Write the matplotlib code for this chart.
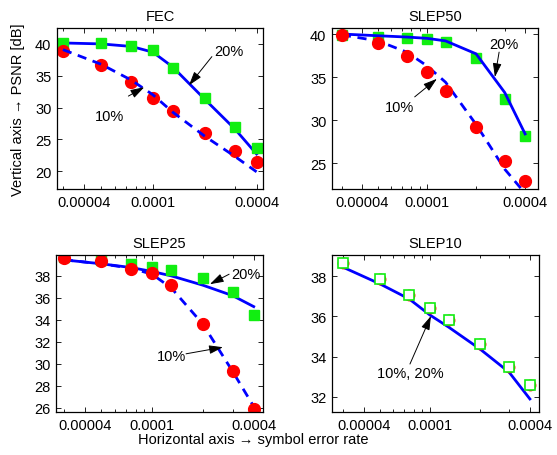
import matplotlib
matplotlib.use("Agg")
import matplotlib.pyplot as plt
from matplotlib.ticker import FixedLocator, NullFormatter

plt.rcParams['font.family'] = ['Liberation Sans', 'DejaVu Sans']

# symbol error rate (shared by all panels)
ser = [3e-5, 5e-5, 7.5e-5, 1e-4, 1.3e-4, 2e-4, 3e-4, 4e-4]
xtick_vals = [4e-5, 1e-4, 4e-4]
xtick_labels = ['0.00004', '0.0001', '0.0004']

# FEC
fec_20_pts = [40.1, 40.1, 39.7, 39.1, 36.2, 31.5, 26.9, 23.7]
fec_10_pts = [38.9, 36.7, 34.0, 31.5, 29.5, 26.0, 23.2, 21.5]
fec_20_fit = [40.15, 40.0, 39.6, 38.7, 36.4, 31.3, 26.6, 22.7]
fec_10_fit = [39.1, 36.8, 34.3, 32.0, 29.3, 25.5, 22.3, 19.9]

# SLEP50
s50_20_pts = [39.9, 39.7, 39.5, 39.4, 39.1, 37.2, 32.5, 28.2]
s50_10_pts = [39.9, 39.0, 37.4, 35.6, 33.4, 29.2, 25.2, 22.9]
s50_20_fit = [40.0, 39.8, 39.65, 39.5, 39.2, 37.7, 33.2, 28.4]
s50_10_fit = [39.9, 39.2, 37.9, 36.3, 34.4, 29.5, 24.3, 21.5]

# SLEP25
s25_20_pts = [39.7, 39.4, 39.1, 38.8, 38.5, 37.8, 36.5, 34.4]
s25_10_pts = [39.67, 39.37, 38.67, 38.3, 37.15, 33.6, 29.3, 25.9]
s25_20_fit = [39.46, 39.1, 38.76, 38.4, 38.0, 37.15, 36.2, 35.2]
s25_10_fit = [39.46, 39.1, 38.7, 38.15, 36.9, 33.6, 29.3, 26.1]

# SLEP10 (10% and 20% coincide)
s10_pts = [38.66, 37.87, 37.07, 36.42, 35.82, 34.63, 33.47, 32.6]
s10_fit = [38.45, 37.62, 36.87, 36.07, 35.46, 34.38, 33.22, 31.89]

W, H = 557, 456
FS = 10.5
fig = plt.figure(figsize=(W / 100, H / 100), dpi=100)


def make_ax(left, top, right, bottom):
    return fig.add_axes([left / W, 1 - bottom / H, (right - left) / W, (bottom - top) / H])


blue = '#0000ff'
green = '#11ee11'
red = '#ff0000'
dash = (3.3, 2.4)


def style(ax, title, xlim, ylim, yticks):
    ax.set_xscale('log')
    ax.set_xlim(xlim)
    ax.set_ylim(ylim)
    ax.set_xticks(xtick_vals)
    ax.set_xticklabels(xtick_labels)
    minors = [2e-5, 3e-5, 5e-5, 6e-5, 7e-5, 8e-5, 9e-5, 2e-4, 3e-4, 5e-4]
    ax.xaxis.set_minor_locator(FixedLocator(minors))
    ax.xaxis.set_minor_formatter(NullFormatter())
    ax.set_yticks(yticks)
    ax.tick_params(which='both', direction='in', top=True, right=True, labelsize=FS, width=0.6)
    ax.tick_params(which='major', length=3.5, pad=4)
    ax.tick_params(which='minor', length=2)
    for s in ax.spines.values():
        s.set_linewidth(0.9)
    ax.set_title(title, fontsize=FS, pad=6)


def arrow(ax, tail, tip, label, text_pos):
    ax.annotate('', xy=tip, xytext=tail,
                arrowprops=dict(arrowstyle='-|>,head_length=0.7,head_width=0.22',
                                color='k', lw=0.7, shrinkA=0, shrinkB=0, mutation_scale=12))
    ax.text(text_pos[0], text_pos[1], label, fontsize=FS, ha='center', va='center')


# FEC
ax = make_ax(57, 29, 263, 190)
ax.plot(ser, fec_20_fit, color=blue, lw=2)
ax.plot(ser, fec_20_pts, 's', color=green, ms=7, mec=green)
ax.plot(ser, fec_10_pts, 'o', color=red, ms=8.5, mec=red)
ax.plot(ser, fec_10_fit, color=blue, lw=2, dashes=dash)
style(ax, 'FEC', (2.77e-5, 4.36e-4), (17.2, 42.5), [20, 25, 30, 35, 40])
arrow(ax, (2.2e-4, 38.0), (1.62e-4, 33.5), '20%', (2.75e-4, 38.9))
arrow(ax, (7.2e-5, 31.8), (8.9e-5, 33.2), '10%', (5.6e-5, 28.7))

# SLEP50
ax = make_ax(332, 29, 538, 190)
ax.plot(ser, s50_20_pts, 's', color=green, ms=7, mec=green)
ax.plot(ser, s50_20_fit, color=blue, lw=2)
ax.plot(ser, s50_10_fit, color=blue, lw=2, dashes=dash)
ax.plot(ser, s50_10_pts, 'o', color=red, ms=8.5, mec=red)
style(ax, 'SLEP50', (2.61e-5, 4.8e-4), (22.0, 40.7), [25, 30, 35, 40])
arrow(ax, (2.77e-4, 37.9), (2.61e-4, 35.0), '20%', (2.95e-4, 38.8))
arrow(ax, (8.4e-5, 32.7), (1.15e-4, 34.8), '10%', (6.8e-5, 31.5))

# SLEP25
ax = make_ax(56, 256, 263, 413)
ax.plot(ser, s25_20_fit, color=blue, lw=2)
ax.plot(ser, s25_10_fit, color=blue, lw=2, dashes=dash)
ax.plot(ser, s25_20_pts, 's', color=green, ms=7, mec=green)
ax.plot(ser, s25_10_pts, 'o', color=red, ms=8.5, mec=red)
style(ax, 'SLEP25', (2.7e-5, 4.54e-4), (25.6, 39.9), [26, 28, 30, 32, 34, 36, 38])
arrow(ax, (2.86e-4, 38.15), (2.2e-4, 37.24), '20%', (3.6e-4, 38.15))
arrow(ax, (1.59e-4, 30.9), (2.63e-4, 31.5), '10%', (1.31e-4, 30.7))

# SLEP10
ax = make_ax(332, 256, 539, 413)
ax.plot(ser, s10_fit, color=blue, lw=2)
ax.plot(ser, s10_pts, 'o', mfc='none', mec=red, ms=7.5, mew=1)
ax.plot(ser, s10_pts, 's', mfc='white', mec=green, ms=6.5, mew=1.2)
style(ax, 'SLEP10', (2.57e-5, 4.54e-4), (31.24, 39.06), [32, 34, 36, 38])
arrow(ax, (7.58e-5, 33.63), (1.014e-4, 36.02), '10%, 20%', (7.58e-5, 33.18))

fig.text(18 / W, 1 - 110 / H, 'Vertical axis \u2192 PSNR [dB]',
         fontsize=FS, rotation=90, ha='center', va='center')
fig.text(253 / W, 1 - 444 / H, 'Horizontal axis \u2192 symbol error rate',
         fontsize=FS, ha='center', va='baseline')

fig.savefig('out.png', dpi=100)
